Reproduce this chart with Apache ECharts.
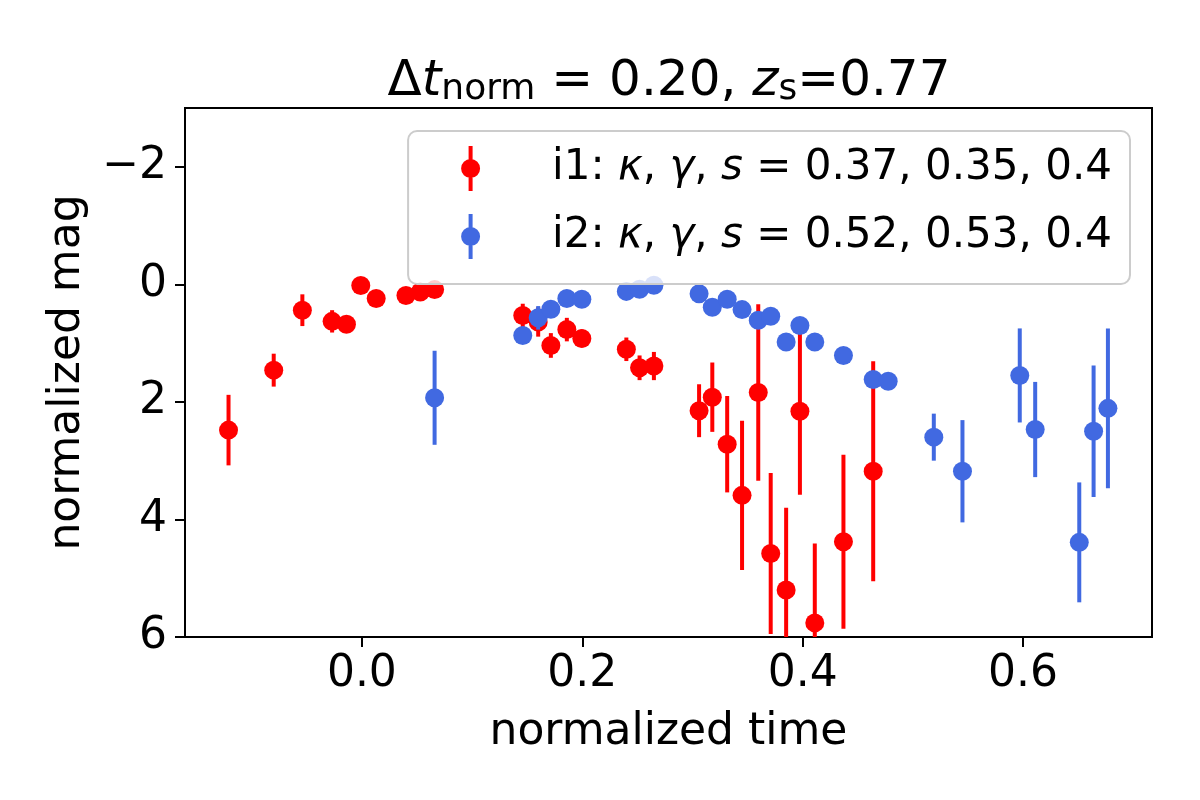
<!DOCTYPE html>
<html>
<head>
<meta charset="utf-8">
<title>normalized light curves</title>
<script src="https://cdn.jsdelivr.net/npm/echarts@6/dist/echarts.min.js"></script>
<style>
  html, body { margin: 0; padding: 0; background: #fff; }
  #chart { width: 1200px; height: 800px; }
</style>
</head>
<body>
<div id="chart"></div>
<script>
// image i1 (red)
const i1Time = [-0.121, -0.080, -0.054, -0.027, -0.014, -0.001, 0.013, 0.040, 0.053, 0.066,
  0.146, 0.160, 0.1715, 0.186, 0.1996, 0.240, 0.252, 0.265,
  0.306, 0.318, 0.3315, 0.345, 0.3597, 0.371, 0.385, 0.3975, 0.411, 0.437, 0.464]
const i1Mag = [2.48, 1.46, 0.44, 0.63, 0.68, 0.02, 0.24, 0.19, 0.13, 0.09,
  0.53, 0.64, 1.04, 0.77, 0.92, 1.105, 1.42, 1.39,
  2.15, 1.92, 2.72, 3.59, 1.84, 4.58, 5.20, 2.16, 5.76, 4.38, 3.18]
const i1Err = [0.60, 0.28, 0.27, 0.19, 0.10, 0.06, 0.06, 0.06, 0.06, 0.06,
  0.20, 0.25, 0.21, 0.20, 0.15, 0.20, 0.21, 0.24,
  0.45, 0.59, 0.82, 1.27, 1.50, 1.37, 1.40, 1.42, 1.35, 1.48, 1.87]

// image i2 (blue)
const i2Time = [0.066, 0.146, 0.160, 0.1715, 0.186, 0.1996, 0.240, 0.252, 0.265,
  0.306, 0.318, 0.3315, 0.345, 0.3597, 0.371, 0.385, 0.3975, 0.411, 0.437, 0.464, 0.4776,
  0.519, 0.545, 0.597, 0.611, 0.651, 0.664, 0.677]
const i2Mag = [1.93, 0.87, 0.57, 0.425, 0.24, 0.255, 0.12, 0.085, 0.017,
  0.16, 0.39, 0.255, 0.43, 0.61, 0.544, 0.98, 0.70, 0.98, 1.21, 1.62, 1.65,
  2.60, 3.18, 1.55, 2.47, 4.39, 2.50, 2.11]
const i2Err = [0.80, 0.10, 0.20, 0.10, 0.08, 0.08, 0.06, 0.06, 0.06,
  0.06, 0.08, 0.08, 0.08, 0.10, 0.10, 0.10, 0.10, 0.10, 0.10, 0.10, 0.10,
  0.40, 0.87, 0.80, 0.81, 1.02, 1.12, 1.36]

const timeTicks = [0.0, 0.2, 0.4, 0.6]
const magTicks = [-2, 0, 2, 4, 6]

const FONT = 'DejaVu Sans'
const RED = '#ff0000'
const BLUE = '#4169e1'

// matplotlib style errorbar marker: dot with a vertical bar
const ERR_ICON = 'path://M7.5,0 L11.5,0 L11.5,45 L7.5,45 Z M0,22.5 A9.5,9.5 0 1 1 19,22.5 A9.5,9.5 0 1 1 0,22.5 Z'

const chart = echarts.init(document.getElementById('chart'), null, { renderer: 'canvas' })

function errorBars (times, mags, errs, color, z) {
  return {
    type: 'custom',
    silent: true,
    clip: true,
    z,
    data: times.map((t, i) => [t, mags[i], errs[i]]),
    encode: { x: 0, y: 1 },
    renderItem (params, api) {
      const x = api.value(0)
      const y = api.value(1)
      const e = api.value(2)
      const p1 = api.coord([x, y - e])
      const p2 = api.coord([x, y + e])
      return {
        type: 'line',
        shape: { x1: p1[0], y1: p1[1], x2: p2[0], y2: p2[1] },
        style: { stroke: color, lineWidth: 4 }
      }
    }
  }
}

function dots (name, times, mags, color, z) {
  return {
    name,
    type: 'scatter',
    z,
    symbol: 'circle',
    symbolSize: 19,
    itemStyle: { color, opacity: 1 },
    emphasis: { disabled: true },
    data: times.map((t, i) => [t, mags[i]])
  }
}

const plain = { fontFamily: FONT, color: '#000', fontWeight: 'normal' }

const titleRich = {
  m: { ...plain, fontSize: 50, lineHeight: 60, verticalAlign: 'bottom', padding: [0, 0, 1, 0] },
  it: { ...plain, fontSize: 50, fontStyle: 'italic', lineHeight: 60, verticalAlign: 'bottom', padding: [0, 0, 1, 0] },
  sub: { ...plain, fontSize: 36, lineHeight: 40, verticalAlign: 'bottom' }
}

const legendRich = {
  lead: { ...plain, fontSize: 42, lineHeight: 45, padding: [0, 0, 0, 67] },
  m: { ...plain, fontSize: 42, lineHeight: 45 },
  it: { ...plain, fontSize: 42, lineHeight: 45, fontStyle: 'italic' }
}

const legendText = {
  i1: '{lead|i1: }{it|κ}{m|, }{it|γ}{m|, }{it|s}{m| = 0.37, 0.35, 0.4}',
  i2: '{lead|i2: }{it|κ}{m|, }{it|γ}{m|, }{it|s}{m| = 0.52, 0.53, 0.4}'
}

const tickStyle = { color: '#000', width: 2 }

const option = {
  animation: false,
  backgroundColor: '#fff',
  title: {
    text: '{m|Δ}{it|t}{sub|norm}{m| = 0.20, }{it|z}{sub|s}{m|=0.77}',
    left: 669,
    top: 48,
    textAlign: 'center',
    padding: 0,
    textStyle: { fontWeight: 'normal', rich: titleRich }
  },
  legend: {
    data: ['i1', 'i2'],
    orient: 'vertical',
    right: 70,
    top: 131,
    z: 10,
    padding: [15, 18, 25, 53],
    itemGap: 23,
    itemWidth: 19,
    itemHeight: 45,
    icon: ERR_ICON,
    selectedMode: false,
    backgroundColor: 'rgba(255,255,255,0.8)',
    borderColor: '#cccccc',
    borderWidth: 2,
    borderRadius: 9,
    formatter: name => legendText[name],
    textStyle: { rich: legendRich }
  },
  grid: {
    left: 185,
    right: 48,
    top: 108,
    bottom: 163,
    show: true,
    borderColor: '#000',
    borderWidth: 2,
    backgroundColor: 'transparent'
  },
  xAxis: {
    type: 'value',
    min: -0.1605,
    max: 0.717,
    name: 'normalized time',
    nameLocation: 'middle',
    nameGap: 74,
    nameTextStyle: { ...plain, fontSize: 44 },
    axisLine: { show: true, onZero: false, lineStyle: tickStyle },
    axisTick: { show: true, length: 10, lineStyle: tickStyle, customValues: timeTicks },
    axisLabel: {
      ...plain,
      fontSize: 44,
      margin: 16,
      customValues: timeTicks,
      formatter: v => v.toFixed(1)
    },
    splitLine: { show: false }
  },
  yAxis: {
    type: 'value',
    inverse: true,
    min: -3,
    max: 6,
    name: 'normalized mag',
    nameLocation: 'middle',
    nameGap: 95,
    nameTextStyle: { ...plain, fontSize: 44 },
    axisLine: { show: true, onZero: false, lineStyle: tickStyle },
    axisTick: { show: true, length: 10, lineStyle: tickStyle, customValues: magTicks },
    axisLabel: {
      ...plain,
      fontSize: 44,
      margin: 18,
      customValues: magTicks,
      formatter: v => (v < 0 ? '\u2212' + Math.abs(v) : String(v))
    },
    splitLine: { show: false }
  },
  series: [
    errorBars(i1Time, i1Mag, i1Err, RED, 2),
    dots('i1', i1Time, i1Mag, RED, 3),
    errorBars(i2Time, i2Mag, i2Err, BLUE, 4),
    dots('i2', i2Time, i2Mag, BLUE, 5)
  ]
}

chart.setOption(option)
</script>
</body>
</html>
